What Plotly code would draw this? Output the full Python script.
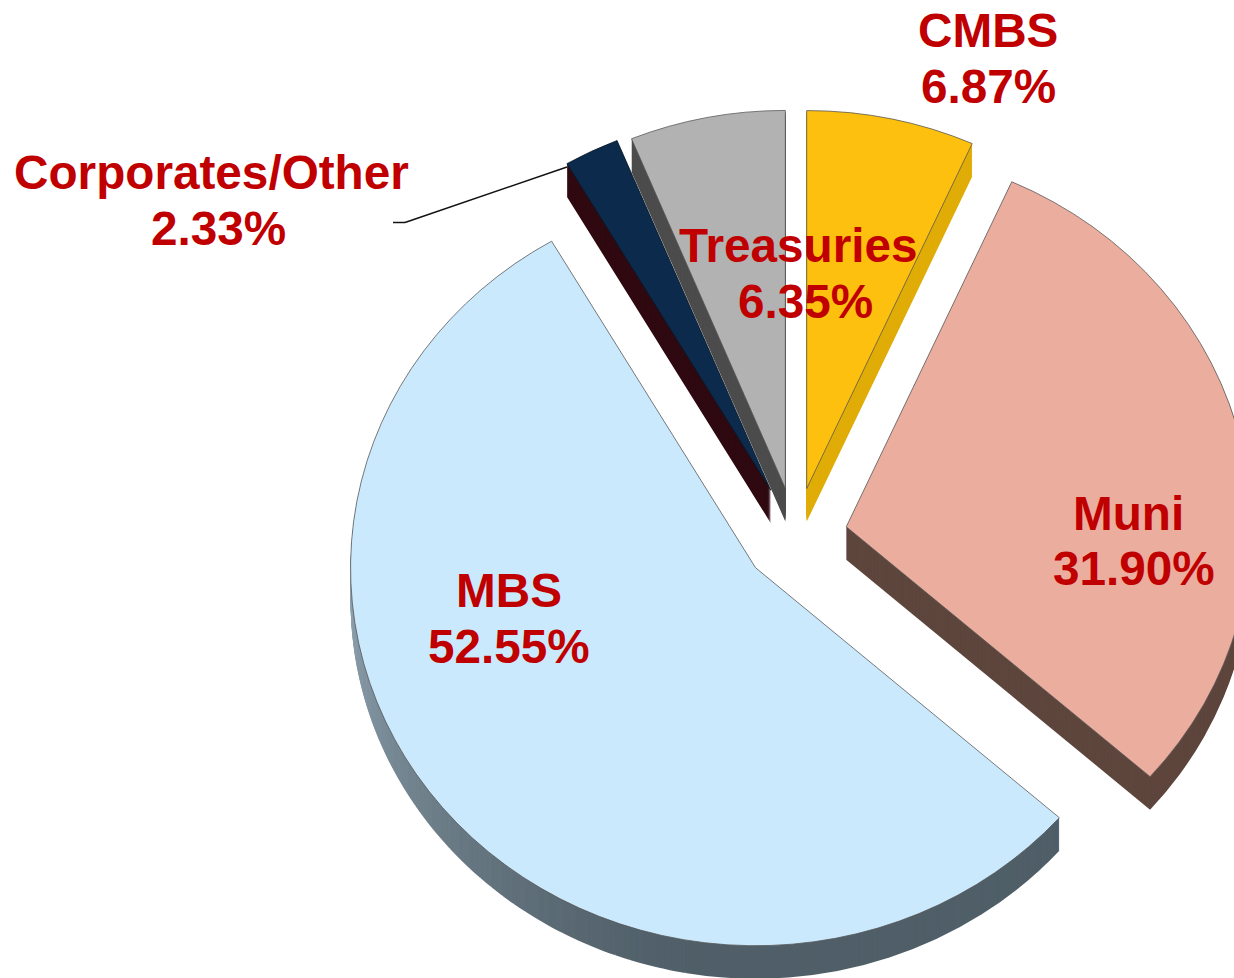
import math
import plotly.graph_objects as go

# ---------- data ----------
categories = ["CMBS", "Muni", "MBS", "Corporates/Other", "Treasuries"]
printed_pct = ["6.87%", "31.90%", "52.55%", "2.33%", "6.35%"]
# sweep of each slice as it is drawn in the reference (its 3-D view differs a little from the printed %)
drawn_share = [6.7, 29.8, 55.1, 2.2, 6.2]
explode = [0.131, 0.128, 0.128, 0.138, 0.131]

# ---------- style ----------
top_colors = ["#FDC00E", "#EBAD9E", "#CBE9FD", "#0B2A4C", "#B2B2B2"]
side_colors = ["#E0AC07", "#5E463D", "#505F68", "#300A12", "#4D4D4D"]
edge_colors = ["#555555", "#555555", "#555555", "#0A1520", "#555555"]
SIDE_DARK = (0x50, 0x5F, 0x68)
SIDE_LIGHT = (0x93, 0xA6, 0xB4)
SIDE_STEPS = 41
W, H = 1300, 1060
CX, CY, R = 795.6, 537.0, 405.0   # pie centre and radius, before the vertical squash
SQUASH = 378.0 / 405.0
DEPTH = 33
RED = "#C00000"

label_lines = [
    ("CMBS", 988, 47), (printed_pct[0], 988, 103),
    ("Muni", 1128, 530), (printed_pct[1], 1134, 585),
    ("MBS", 509, 607), (printed_pct[2], 509, 663),
    ("Corporates/Other", 212, 189), (printed_pct[3], 218, 245),
    ("Treasuries", 798, 262), (printed_pct[4], 805, 318),
]
BASELINE_TO_CENTER = 16.5


def dom(cx, cy, half):
    return dict(x=[(cx - half) / W, (cx + half) / W],
                y=[1 - (cy + half) / H, 1 - (cy - half) / H])


def shade(t):
    t = t ** 1.3
    c = [round(a + (b - a) * t) for a, b in zip(SIDE_DARK, SIDE_LIGHT)]
    return f"rgb({c[0]},{c[1]},{c[2]})"


fig = go.Figure()
half_all = R * (1 + max(explode))

# geometry of the pulled MBS slice, for its shaded side
start = sum(drawn_share[:2]) / 100 * 360
sweep = drawn_share[2] / 100 * 360
mid = math.radians(start + sweep / 2)
mbs_x = CX + explode[2] * R * math.sin(mid)
mbs_y = CY - explode[2] * R * math.cos(mid)
dark_part = 190 - start
step_part = (272 - 190) / (SIDE_STEPS - 1)
rest = sweep - dark_part - step_part * (SIDE_STEPS - 1)
other = 360 - sweep
mbs_values = [start, dark_part] + [step_part] * (SIDE_STEPS - 1) + [rest, other - start]
mbs_colors = (["rgba(0,0,0,0)", shade(0)]
              + [shade((i + 1) / (SIDE_STEPS - 1)) for i in range(SIDE_STEPS - 1)]
              + [shade(1), "rgba(0,0,0,0)"])

others_side = [c if i != 2 else "rgba(0,0,0,0)" for i, c in enumerate(side_colors)]

for d in range(DEPTH, 0, -1):
    off = d / SQUASH
    fig.add_trace(go.Pie(
        values=drawn_share, labels=categories, sort=False, direction="clockwise", rotation=0,
        pull=explode, domain=dom(CX, CY + off, half_all), textinfo="none", hoverinfo="skip",
        showlegend=False, marker=dict(colors=others_side, line=dict(width=0))))
    fig.add_trace(go.Pie(
        values=mbs_values, sort=False, direction="clockwise", rotation=0,
        domain=dom(mbs_x, mbs_y + off, R), textinfo="none", hoverinfo="skip",
        showlegend=False, marker=dict(colors=mbs_colors, line=dict(width=0))))

fig.add_trace(go.Pie(
    values=drawn_share, labels=categories, sort=False, direction="clockwise", rotation=0,
    pull=explode, domain=dom(CX, CY, half_all), textinfo="none", hoverinfo="skip",
    showlegend=False, marker=dict(colors=top_colors, line=dict(width=0.8, color=edge_colors))))

for text, x, base in label_lines:
    fig.add_annotation(text=text, xref="paper", yref="paper", x=x / W, y=1 - (base - BASELINE_TO_CENTER) / H,
                       xanchor="center", yanchor="middle", showarrow=False,
                       font=dict(family="Liberation Sans, Arial, sans-serif", size=47.7, color=RED, weight="bold"))

leader_x = [393, 405, 567]
leader_y = [222.5, 222.5, 167]
for i in range(2):
    fig.add_shape(type="line", xref="paper", yref="paper",
                  x0=leader_x[i] / W, x1=leader_x[i + 1] / W,
                  y0=1 - leader_y[i] / H, y1=1 - leader_y[i + 1] / H,
                  line=dict(color="#111111", width=1.5))

fig.update_layout(width=W, height=H, autosize=False, margin=dict(l=0, r=0, t=0, b=0, pad=0),
                  paper_bgcolor="white", plot_bgcolor="white", showlegend=False)

post = f"""
document.documentElement.style.overflow='hidden';
document.body.style.margin='0';
document.body.style.overflow='hidden';
var lay=document.querySelector('.pielayer');
if(lay){{lay.setAttribute('transform','translate(0,{CY*(1-SQUASH):.3f}) scale(1,{SQUASH:.5f})');}}
"""
fig.write_html("out.html", post_script=post)
